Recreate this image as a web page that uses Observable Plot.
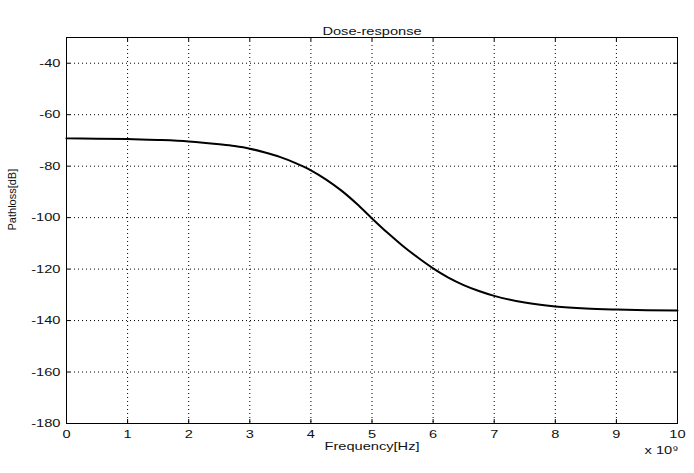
<!DOCTYPE html>
<html>
<head>
<meta charset="utf-8">
<script src="https://cdn.jsdelivr.net/npm/d3@7"></script>
<script src="https://cdn.jsdelivr.net/npm/@observablehq/plot@0.6"></script>
<style>
  html, body { margin: 0; padding: 0; background: #fff; }
  #chart svg { display: block; }
</style>
</head>
<body>
<div id="chart"></div>
<script>
// Frequency in units of 1e9 Hz
const frequency = [0, 0.5, 1, 1.5, 2, 2.5, 2.75, 3, 3.25, 3.5, 3.75, 4, 4.25, 4.5, 4.75, 5, 5.25, 5.5, 5.75, 6, 6.25, 6.5, 6.75, 7, 7.5, 8, 8.5, 9, 9.5, 10];
const pathloss = [-69.2, -69.3, -69.4, -69.8, -70.4, -71.5, -72.2, -73.2, -74.7, -76.5, -78.8, -81.6, -85.2, -89.5, -94.6, -100.3, -105.8, -110.9, -115.5, -119.7, -123.3, -126.2, -128.5, -130.4, -133.0, -134.5, -135.3, -135.7, -135.95, -136.1];
const xTicks = [0, 1, 2, 3, 4, 5, 6, 7, 8, 9, 10];
const yTicks = [-180, -160, -140, -120, -100, -80, -60, -40];
const title = "Dose-response";
const xLabel = "Frequency[Hz]";
const yLabel = "Pathloss[dB]";
const xExponent = "x 10⁹";

const data = frequency.map((f, i) => ({f, p: pathloss[i]}));

const W = 694, H = 473;
const mL = 66, mR = 17, mT = 37, mB = 50;
const innerW = W - mL - mR, innerH = H - mT - mB;
const tk = 4;
const fmt = d => String(d);

const chart = Plot.plot({
  width: W, height: H,
  marginLeft: mL, marginRight: mR, marginTop: mT, marginBottom: mB,
  style: {fontFamily: "'Liberation Sans', Arial, sans-serif", fontSize: "11px", color: "#111", background: "#fff"},
  x: {domain: [0, 10], ticks: xTicks, label: null},
  y: {domain: [-180, -30], ticks: yTicks, label: null},
  marks: [
    Plot.ruleX(xTicks, {stroke: "#000", strokeWidth: 1, strokeDasharray: "1,3"}),
    Plot.ruleY(yTicks, {stroke: "#000", strokeWidth: 1, strokeDasharray: "1,3"}),
    // inward tick marks on all four sides
    Plot.tickX(xTicks, {x: d => d, insetTop: innerH - tk, stroke: "#000"}),
    Plot.tickX(xTicks, {x: d => d, insetBottom: innerH - tk, stroke: "#000"}),
    Plot.tickY(yTicks, {y: d => d, insetRight: innerW - tk, stroke: "#000"}),
    Plot.tickY(yTicks, {y: d => d, insetLeft: innerW - tk, stroke: "#000"}),
    Plot.frame({stroke: "#000", strokeWidth: 1}),
    Plot.line(data, {x: "f", y: "p", stroke: "#000", strokeWidth: 2, curve: "monotone-x"}),
    Plot.axisX({ticks: xTicks, tickSize: 0, tickPadding: 7, label: null, fontSize: 11, tickFormat: fmt}),
    Plot.axisY({ticks: yTicks, tickSize: 0, tickPadding: 6, label: null, fontSize: 11, tickFormat: fmt}),
    Plot.text([title], {frameAnchor: "top", dy: -10.5, fontSize: 11}),
    Plot.text([xLabel], {frameAnchor: "bottom", dy: 26, fontSize: 11}),
    Plot.text([yLabel], {frameAnchor: "left", dx: -54, rotate: -90, fontSize: 11}),
    Plot.text([xExponent], {frameAnchor: "bottom-right", textAnchor: "end", dx: 1, dy: 30.5, fontSize: 11})
  ]
});
document.getElementById("chart").appendChild(chart);

// The reference's horizontal text uses a wide face: stretch glyphs horizontally
chart.querySelectorAll("text").forEach(t => {
  const tr = t.getAttribute("transform") || "";
  if (tr.includes("rotate")) return;
  const len = t.getComputedTextLength();
  if (len > 0) {
    t.setAttribute("textLength", (len * 1.33).toFixed(1));
    t.setAttribute("lengthAdjust", "spacingAndGlyphs");
  }
});
</script>
</body>
</html>
